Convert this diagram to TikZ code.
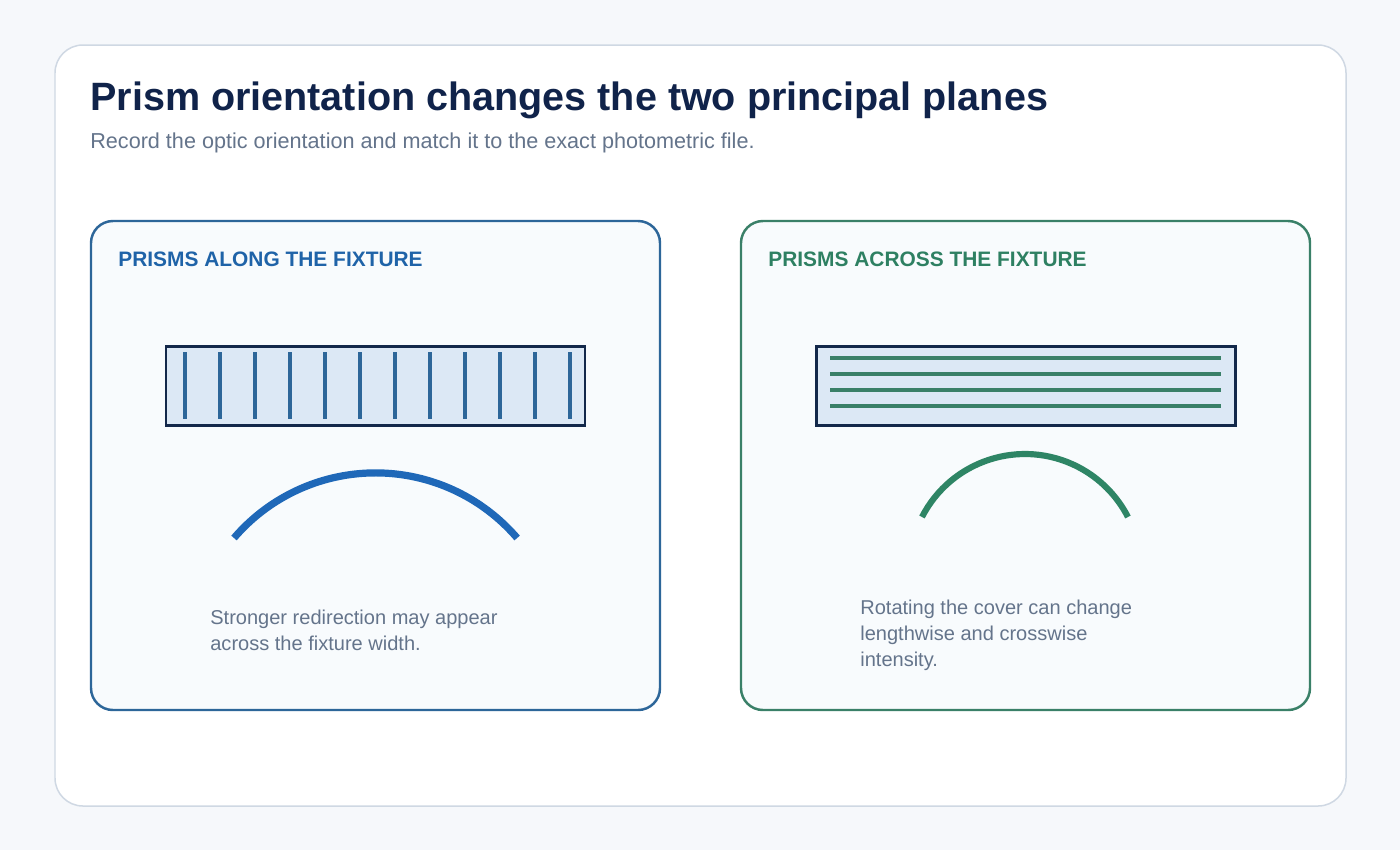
\documentclass[tikz,border=0pt]{standalone}
\usepackage{fontspec}
\setmainfont{Liberation Sans}
\usepackage{xcolor}
\usepackage{tikz}
\usetikzlibrary{positioning}

\definecolor{pagebg}{HTML}{F6F8FB}
\definecolor{cardline}{HTML}{CFD8E3}
\definecolor{titleink}{HTML}{10234A}
\definecolor{mutedink}{HTML}{64748B}
\definecolor{alongblue}{HTML}{1F63A8}
\definecolor{alongedge}{HTML}{2D6699}
\definecolor{alongbeam}{HTML}{1F68B8}
\definecolor{acrossgreen}{HTML}{2E8062}
\definecolor{acrossedge}{HTML}{3A8068}
\definecolor{acrossbeam}{HTML}{2E8565}
\definecolor{panelfill}{HTML}{F8FBFD}
\definecolor{coverfill}{HTML}{DCE8F5}
\definecolor{coveredge}{HTML}{13284A}

\begin{document}
\begin{tikzpicture}[
    x=0.02cm, y=0.02cm,
    panel/.style={draw=#1, line width=1.4pt, fill=panelfill, rounded corners=12.5pt},
    cover/.style={draw=coveredge, line width=1.7pt, fill=coverfill},
    prism/.style={draw=#1, line width=2pt},
    beam/.style={draw=#1, line width=4.1pt},
    heading/.style={anchor=base west, inner sep=0pt, text=#1,
      font=\fontsize{11.9}{14}\selectfont\bfseries},
    note/.style={anchor=base west, inner sep=0pt, align=left, text=mutedink,
      font=\fontsize{11.4}{14.7}\selectfont},
  ]
  % --- Page and card ---
  \fill[pagebg] (0,0) rectangle (1400,-850);
  \draw[cardline, line width=0.85pt, fill=white, rounded corners=15.9pt]
    (55,-45) rectangle (1346,-806);

  \node[anchor=base west, inner sep=0pt, text=titleink,
    font=\fontsize{22.5}{27}\selectfont\bfseries] (title) at (90,-110)
    {Prism orientation changes the two principal planes};
  \node[anchor=base west, inner sep=0pt, text=mutedink,
    font=\fontsize{12.3}{15}\selectfont] (subtitle) at (90,-148)
    {Record the optic orientation and match it to the exact photometric file.};

  % --- Prisms along ---
  \draw[panel=alongedge] (91,-221) rectangle (660,-710);
  \node[heading=alongblue] (alonghead) at (118,-266) {PRISMS ALONG THE FIXTURE};
  \draw[cover] (166,-346) rectangle (585,-425);
  \foreach \i in {0,...,11} {
    \draw[prism=alongedge] (185+\i*35,-352) -- ++(0,-67);
  }
  % wide spread
  \draw[beam=alongbeam] (234,-538) arc[start angle=139.4, end angle=40.6, radius=3.73cm];
  \node[note] (alongnote) at (210,-650)
    {Stronger redirection may appear\\across the fixture width.};

  % --- Prisms across ---
  \draw[panel=acrossedge] (741,-221) rectangle (1310,-710);
  \node[heading=acrossgreen] (acrosshead) at (768,-266) {PRISMS ACROSS THE FIXTURE};
  \draw[cover] (816,-346) rectangle (1235,-425);
  \foreach \y in {358,374,390,406} {
    \draw[prism=acrossedge] (830,-\y) -- (1221,-\y);
  }
  % narrower spread
  \draw[beam=acrossbeam, line width=3.5pt] (922,-517) arc[start angle=152.9, end angle=27.1, radius=2.314cm];
  \node[note] (acrossnote) at (860,-666)
    {Rotating the cover can change\\lengthwise and crosswise\\intensity.};
\end{tikzpicture}
\end{document}
